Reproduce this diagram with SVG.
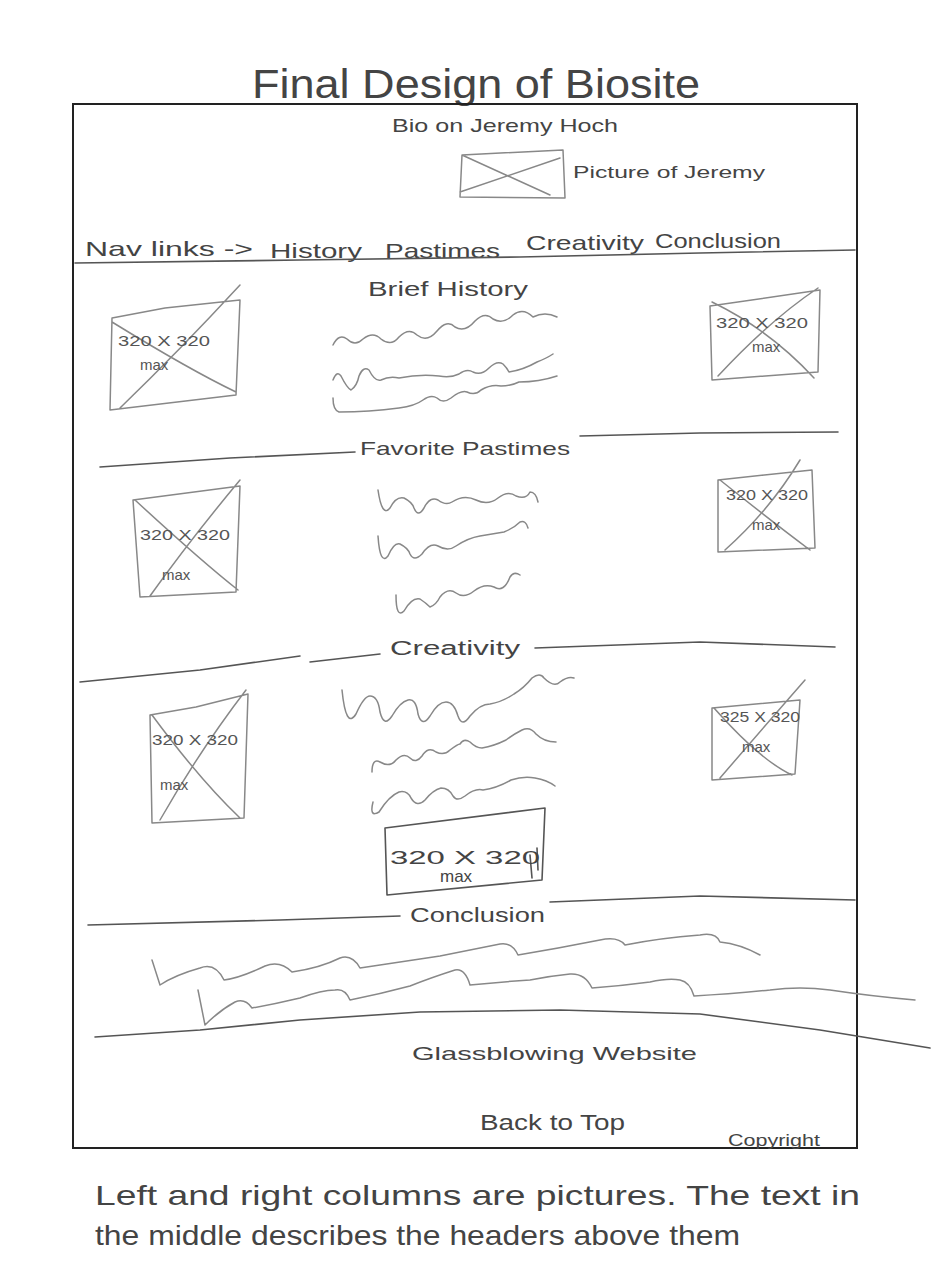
<svg xmlns="http://www.w3.org/2000/svg" width="933" height="1283" viewBox="0 0 933 1283">
<style>
.pen{fill:none;stroke:#555;stroke-width:1.6;stroke-linecap:round;stroke-linejoin:round}
.lite{fill:none;stroke:#888;stroke-width:1.5;stroke-linecap:round;stroke-linejoin:round}
.frame{fill:none;stroke:#222;stroke-width:2}
.t{font-family:"Liberation Sans",Arial,sans-serif;fill:#444}
.ti{font-family:"Liberation Sans",Arial,sans-serif;fill:#555;font-size:15px}
</style>
<rect width="933" height="1283" fill="#fff"/>
<g id="title"><text class="t" x="252" y="98" font-size="40" textLength="448" lengthAdjust="spacingAndGlyphs">Final Design of Biosite</text></g>
<g id="frame"><rect class="frame" x="73" y="104" width="784" height="1044"/></g>
<g id="header">
<text class="t" x="392" y="132" font-size="19" textLength="226" lengthAdjust="spacingAndGlyphs">Bio on Jeremy Hoch</text>
<path class="lite" d="M462,155 L563,150 L565,198 L460,197 Z M462,155 L550,195 M460,192 L560,158"/>
<text class="t" x="573" y="178" font-size="17" textLength="192" lengthAdjust="spacingAndGlyphs">Picture of Jeremy</text>
</g>
<g id="nav">
<text class="t" x="85" y="256" font-size="21" textLength="168" lengthAdjust="spacingAndGlyphs">Nav links -&gt;</text>
<text class="t" x="270" y="258" font-size="21" textLength="92" lengthAdjust="spacingAndGlyphs">History</text>
<text class="t" x="385" y="258" font-size="21" textLength="115" lengthAdjust="spacingAndGlyphs">Pastimes</text>
<text class="t" x="526" y="250" font-size="21" textLength="118" lengthAdjust="spacingAndGlyphs">Creativity</text>
<text class="t" x="655" y="248" font-size="21" textLength="126" lengthAdjust="spacingAndGlyphs">Conclusion</text>
<path class="pen" d="M75,263 L300,260 L520,257 L700,253 L855,250"/>
</g>
<g id="history">
<text class="t" x="368" y="296" font-size="20" textLength="160" lengthAdjust="spacingAndGlyphs">Brief History</text>
<path class="lite" d="M112,318 L165,308 L240,300 L236,395 L110,410 Z M112,322 Q190,370 236,392 M120,408 Q180,350 240,285"/>
<text class="ti" x="118" y="346" textLength="92" lengthAdjust="spacingAndGlyphs">320 X 320</text>
<text class="ti" x="140" y="370">max</text>
<path class="lite" d="M710,306 L820,290 L818,372 L712,380 Z M712,302 Q770,330 814,378 M718,376 Q770,320 818,288"/>
<text class="ti" x="716" y="328" textLength="92" lengthAdjust="spacingAndGlyphs">320 X 320</text>
<text class="ti" x="752" y="352">max</text>
<path class="lite" d="M333,345 q6,-12 14,-6 q8,8 16,0 q10,-8 18,0 q10,8 18,-2 q10,-10 18,-2 q10,8 20,-4 q10,-12 18,-4 q10,6 20,-6 q10,-10 18,-2 q10,6 20,-4 q10,-8 20,2 q12,-6 24,0"/>
<path class="lite" d="M333,380 q4,-10 8,-4 q6,12 10,14 q6,-4 8,-14 q4,-10 10,-6 q6,12 12,10 q8,-4 18,-2 q20,-4 40,-2 q12,2 20,-2 q8,-6 14,-2 q8,4 16,-4 q8,-8 14,-4 q4,4 6,8 q14,-2 28,-10 q10,-4 16,-8"/>
<path class="lite" d="M333,398 q0,12 6,14 q30,0 60,-4 q16,-2 24,-8 q8,-6 14,-2 q6,6 14,0 q10,-8 16,-6 q8,4 14,-2 q10,-6 20,-4 q10,0 18,-4 q20,0 38,-6"/>
</g>
<g id="pastimes">
<path class="pen" d="M580,436 L700,433 L838,432"/>
<text class="t" x="360" y="455" font-size="19" textLength="210" lengthAdjust="spacingAndGlyphs">Favorite Pastimes</text>
<path class="pen" d="M100,467 L230,458 L355,452"/>
<path class="lite" d="M133,500 L240,486 L236,592 L140,597 Z M135,500 Q200,560 238,590 M150,596 Q190,540 240,480"/>
<text class="ti" x="140" y="540" textLength="90" lengthAdjust="spacingAndGlyphs">320 X 320</text>
<text class="ti" x="162" y="580">max</text>
<path class="lite" d="M718,480 L812,470 L815,548 L718,552 Z M720,480 Q770,520 810,550 M725,550 Q770,510 800,460"/>
<text class="ti" x="726" y="500" textLength="82" lengthAdjust="spacingAndGlyphs">320 X 320</text>
<text class="ti" x="752" y="530">max</text>
<path class="lite" d="M378,490 q4,28 12,18 q6,-12 14,-10 q8,4 10,10 q4,10 10,0 q6,-12 14,-8 q8,6 14,2 q12,-8 24,-2 q12,6 22,-2 q10,-8 18,-2 q10,4 14,-4 q6,0 8,10"/>
<path class="lite" d="M378,536 q2,30 10,20 q6,-14 12,-12 q8,4 10,10 q4,8 12,0 q8,-12 16,-8 q10,6 18,0 q12,-8 24,-10 q12,-2 24,-4 q10,-4 16,-10 q6,-2 8,6"/>
<path class="lite" d="M396,595 q0,24 8,16 q8,-14 16,-12 q6,4 10,8 q6,-2 10,-10 q8,-10 16,-4 q8,6 18,-2 q10,-8 20,-4 q10,6 16,-10 q4,-6 10,-2"/>
</g>
<g id="creativity">
<text class="t" x="390" y="655" font-size="20" textLength="130" lengthAdjust="spacingAndGlyphs">Creativity</text>
<path class="pen" d="M535,648 L700,642 L835,647"/>
<path class="pen" d="M80,682 L200,670 L300,656 M310,662 L380,654"/>
<path class="lite" d="M150,715 L196,707 L248,694 L244,818 L152,823 Z M152,715 Q200,780 240,818 M160,820 Q200,750 246,690"/>
<text class="ti" x="152" y="745" textLength="86" lengthAdjust="spacingAndGlyphs">320 X 320</text>
<text class="ti" x="160" y="790">max</text>
<path class="lite" d="M712,708 L800,700 L795,774 L712,780 Z M714,708 Q760,760 792,775 M720,778 Q770,720 805,680"/>
<text class="ti" x="720" y="722" textLength="80" lengthAdjust="spacingAndGlyphs">325 X 320</text>
<text class="ti" x="742" y="752">max</text>
<path class="lite" d="M342,690 q4,40 14,24 q8,-18 14,-18 q8,0 10,16 q4,16 12,4 q8,-14 16,-16 q8,-2 10,14 q4,14 12,2 q8,-14 16,-14 q8,0 12,14 q4,12 12,0 q10,-12 20,-12 q12,-2 24,-10 q10,-6 18,-16 q8,-6 12,0 q10,10 16,4 q8,-6 14,-4"/>
<path class="lite" d="M372,772 q0,-14 8,-10 q10,6 16,-2 q8,-8 14,-2 q6,6 12,-2 q6,-10 14,-4 q8,4 14,-2 q8,-6 10,-6 q4,-6 10,-2 q6,6 12,6 q12,-2 24,-8 q8,-6 16,-10 q8,-4 14,4 q8,8 20,8"/>
<path class="lite" d="M373,802 q-4,16 6,10 q10,-16 20,-20 q8,-2 12,6 q6,10 14,2 q8,-10 16,-12 q8,0 12,8 q4,6 12,0 q10,-8 18,-6 q14,-2 28,-10 q12,-4 24,-2 q12,2 20,8"/>
<path class="pen" d="M385,828 L545,808 L542,880 L387,895 Z M530,855 L532,878 M537,848 L538,870"/>
<text class="t" x="390" y="864" font-size="19" textLength="150" lengthAdjust="spacingAndGlyphs">320 X 320</text>
<text class="t" x="440" y="882" font-size="17">max</text>
</g>
<g id="conclusion">
<path class="pen" d="M550,902 L700,896 L855,900"/>
<text class="t" x="410" y="922" font-size="20" textLength="135" lengthAdjust="spacingAndGlyphs">Conclusion</text>
<path class="pen" d="M88,925 L280,920 L400,916"/>
<path class="lite" d="M152,960 L160,985 Q175,975 200,968 Q215,962 224,980 Q240,978 265,966 Q280,960 292,972 Q320,968 340,958 Q352,954 360,968 Q400,962 440,956 Q470,950 500,944 Q512,942 518,955 Q560,948 600,940 Q618,936 625,945 Q660,938 700,935 Q716,932 720,942 Q740,944 760,955"/>
<path class="lite" d="M198,990 L205,1025 Q220,1010 235,1002 Q245,998 252,1008 Q275,1004 300,998 Q322,990 335,990 Q345,988 350,1000 Q380,994 410,986 Q430,978 455,970 Q465,968 470,985 Q500,982 530,980 Q550,976 570,974 Q585,973 592,988 Q620,986 650,982 Q668,978 680,980 Q690,982 694,996 Q730,994 770,990 Q800,986 830,990 Q870,996 915,1000"/>
<path class="pen" d="M95,1037 L200,1030 L300,1020 L420,1012 L560,1010 L700,1014 L820,1030 L930,1048"/>
</g>
<g id="footer">
<text class="t" x="412" y="1060" font-size="19" textLength="285" lengthAdjust="spacingAndGlyphs">Glassblowing Website</text>
<text class="t" x="480" y="1130" font-size="22" textLength="145" lengthAdjust="spacingAndGlyphs">Back to Top</text>
<text class="t" x="728" y="1146" font-size="17" textLength="92" lengthAdjust="spacingAndGlyphs">Copyright</text>
</g>
<g id="note">
<text class="t" x="95" y="1205" font-size="28" textLength="765" lengthAdjust="spacingAndGlyphs">Left and right columns are pictures. The text in</text>
<text class="t" x="95" y="1245" font-size="28" textLength="645" lengthAdjust="spacingAndGlyphs">the middle describes the headers above them</text>
</g>
</svg>
